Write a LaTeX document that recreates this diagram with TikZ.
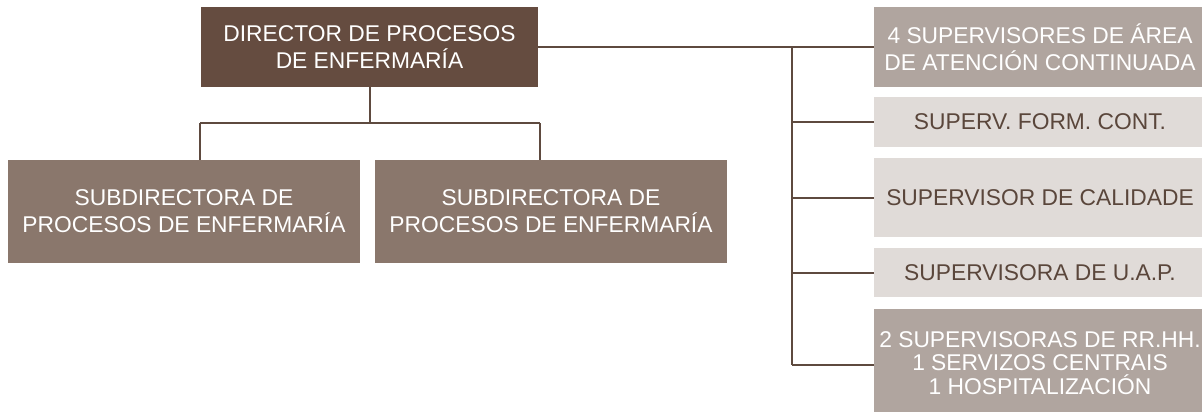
\documentclass[tikz,border=0pt]{standalone}
\usepackage{fontspec}
\setmainfont{Liberation Sans}
\definecolor{cdir}{HTML}{654C40}
\definecolor{csub}{HTML}{8A776C}
\definecolor{cmid}{HTML}{B0A59F}
\definecolor{clight}{HTML}{E0DBD8}
\definecolor{cline}{HTML}{5E4A3F}
\definecolor{ctext}{HTML}{5A463B}
\begin{document}
\begin{tikzpicture}[x=1pt,y=-1pt,
  box/.style={rectangle, inner sep=0pt, align=center, font=\fontsize{22.8}{27}\selectfont},
  rbox/.style={box, minimum width=332pt},
  conn/.style={draw=cline, line width=2pt}]
\useasboundingbox (0,0) rectangle (1202,412);
\node[box, fill=cdir, text=white, minimum width=337pt, minimum height=80pt] (dir) at (369.5,47) {DIRECTOR DE PROCESOS\\DE ENFERMARÍA};
\node[box, fill=csub, text=white, minimum width=352pt, minimum height=103pt] (sub1) at (184,211.5) {SUBDIRECTORA DE\\PROCESOS DE ENFERMARÍA};
\node[box, fill=csub, text=white, minimum width=352pt, minimum height=103pt] (sub2) at (551,211.5) {SUBDIRECTORA DE\\PROCESOS DE ENFERMARÍA};
\node[rbox, fill=cmid, text=white, minimum height=80pt] (r1) at (1040,47) {4 SUPERVISORES DE ÁREA\\DE ATENCIÓN CONTINUADA};
\node[rbox, fill=clight, text=ctext, minimum height=50pt] (r2) at (1040,122) {SUPERV. FORM. CONT.};
\node[rbox, fill=clight, text=ctext, minimum height=79pt] (r3) at (1040,197.5) {SUPERVISOR DE CALIDADE};
\node[rbox, fill=clight, text=ctext, minimum height=49pt] (r4) at (1040,272.5) {SUPERVISORA DE U.A.P.};
\node[rbox, fill=cmid, text=white, minimum height=112pt] (r5) at (1040,365) {};
\node[rbox, text=white, font=\fontsize{22.8}{23.5}\selectfont] (r5t) at (1040,363) {2 SUPERVISORAS DE RR.HH.\\1 SERVIZOS CENTRAIS\\1 HOSPITALIZACIÓN};
\coordinate (jl) at (200,123);
\coordinate (jr) at (540,123);
\coordinate (tt) at (792,47);
\coordinate (tb) at (792,365);
\draw[conn] (dir.south) -- (dir.south |- jl);
\draw[conn] (jl) -- (jr);
\draw[conn] (jl) -- (jl |- sub1.north);
\draw[conn] (jr) -- (jr |- sub2.north);
\draw[conn] (dir.east) -- (r1.west);
\draw[conn] (tt) -- (tb);
\draw[conn] (tt |- r2.west) -- (r2.west);
\draw[conn] (tt |- r3.west) -- (r3.west);
\draw[conn] (tt |- r4.west) -- (r4.west);
\draw[conn] (tb) -- (r5.west);
\end{tikzpicture}
\end{document}
